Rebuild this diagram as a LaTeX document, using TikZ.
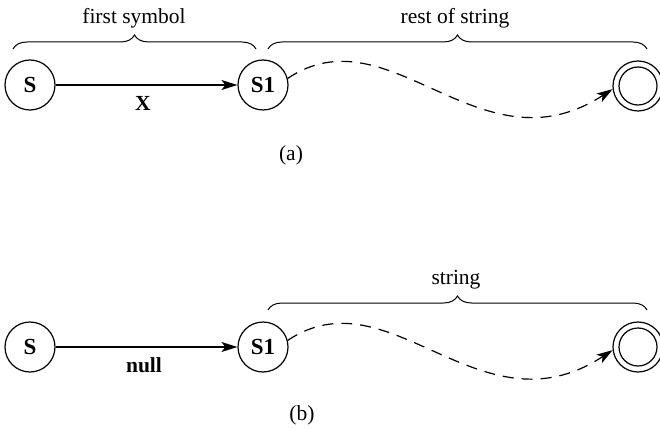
\documentclass[tikz,border=0pt]{standalone}
\usepackage{fontspec}
\setmainfont{Liberation Serif}
\usetikzlibrary{arrows.meta,decorations.pathreplacing}
\begin{document}
\begin{tikzpicture}[x=1pt,y=-1pt,line width=1.2pt,
  state/.style={draw,circle,minimum size=50pt,inner sep=0pt,font=\fontsize{23}{26}\selectfont\bfseries},
  accept/.style={draw,circle,minimum size=50pt,inner sep=0pt},
  lbl/.style={font=\fontsize{21.5}{25}\selectfont},
  blbl/.style={font=\fontsize{21.5}{25}\selectfont\bfseries},
  bracedec/.style={decorate,decoration={brace,amplitude=14pt},line width=1pt},
  solidarrow/.style={-{Stealth[length=16pt,width=10pt,inset=4pt]}},
  dasharrow/.style={dashed,dash pattern=on 11pt off 8pt,-{Stealth[length=16pt,width=10pt,inset=4pt]}}]
\useasboundingbox (0,0) rectangle (660,430);
% (a)
\node[state] (sa) at (30,85) {S};
\node[state] (s1a) at (263,85) {S1};
\node[accept] (fa) at (638,86) {};
\draw (fa.center) circle (19);
\draw[solidarrow] (sa) -- (s1a);
\node[blbl] (xa) at (143,103) {X};
\draw[dasharrow] (s1a.15) .. controls (390,10) and (480,175) .. (fa.187);
\coordinate (b1l) at (13,49); \coordinate (b1r) at (256,49);
\coordinate (b2l) at (268,49); \coordinate (b2r) at (647,49);
\draw[bracedec] (b1l) -- (b1r);
\draw[bracedec] (b2l) -- (b2r);
\node[lbl] (t1) at (134,18) {first symbol};
\node[lbl] (t2) at (455,18) {rest of string};
\node[lbl] (capa) at (291,155) {(a)};
% (b)
\node[state] (sb) at (30,347) {S};
\node[state] (s1b) at (263,347) {S1};
\node[accept] (fb) at (638,347) {};
\draw (fb.center) circle (19);
\draw[solidarrow] (sb) -- (s1b);
\node[blbl] (nb) at (144,365) {null};
\draw[dasharrow] (s1b.15) .. controls (390,272) and (480,437) .. (fb.187);
\coordinate (b3l) at (268,310); \coordinate (b3r) at (647,310);
\draw[bracedec] (b3l) -- (b3r);
\node[lbl] (t3) at (456,280) {string};
\node[lbl] (capb) at (302,415) {(b)};
\end{tikzpicture}
\end{document}
